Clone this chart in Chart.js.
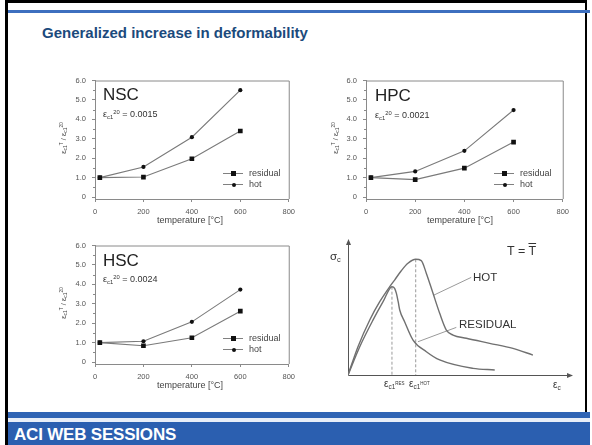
<!DOCTYPE html>
<html lang="en">
<head>
<meta charset="UTF-8">
<title>Generalized increase in deformability</title>
<script src="https://cdn.jsdelivr.net/npm/chart.js"></script>
<style>
    body { margin: 0; background: #fff; font-family: 'Liberation Sans', Arial, sans-serif; }
    #slide { position: relative; width: 592px; height: 445px; overflow: hidden; background: #fff; }
    #frame { position: absolute; left: 5px; top: 0; width: 582px; height: 445px; border-left: 3px solid #000; border-top: 3px solid #000; border-right: 2px solid #000; box-sizing: border-box; }
    #topStrip { position: absolute; left: 8px; right: 2px; top: 10px; height: 3px; background: #3d6fbf; }
    #title { position: absolute; left: 42px; top: 25px; font-size: 15px; line-height: 16px; font-weight: bold; color: #1b4a7c; }
    #footTop { position: absolute; left: 8px; right: 2px; top: 412px; height: 6px; background: #2f64b5; }
    #footLine { position: absolute; left: 8px; right: 2px; top: 418px; height: 4px; background: #e8eef8; }
    #footBand { position: absolute; left: 8px; right: 2px; top: 422px; height: 23px; background: #2b5fb0; }
    #footText { position: absolute; left: 14px; top: 425px; font-size: 17px; line-height: 19px; font-weight: bold; color: #fff; letter-spacing: -0.2px; }
    canvas { position: absolute; }
    .lbl { position: absolute; white-space: nowrap; color: #222; }
    .big { font-size: 17px; line-height: 17px; }
    .eps { font-size: 9px; line-height: 9px; color: #333; }
    .sub { font-size: 0.65em; vertical-align: -0.3em; }
    .sup { font-size: 0.65em; vertical-align: 0.55em; }
    .xt { font-size: 9px; line-height: 9px; color: #444; transform: translateX(-50%); }
    .yt { font-size: 7.5px; line-height: 8px; color: #444; transform: translate(-50%, -50%) rotate(-90deg); }
    .leg { position: absolute; height: 10px; }
    .leg .ln { position: absolute; left: 0; top: 5px; width: 20px; height: 1px; background: #808080; }
    .leg .sq { position: absolute; left: 8px; top: 3px; width: 5px; height: 5px; background: #111; }
    .leg .dot { position: absolute; left: 8.5px; top: 3.5px; width: 4px; height: 4px; border-radius: 50%; background: #111; }
    .leg .tx { position: absolute; left: 26px; top: 0; font-size: 9px; line-height: 10px; color: #444; }
    .sk { font-size: 11.5px; line-height: 12px; color: #333; }
</style>
</head>
<body>
<div id="slide">
    <div id="frame"></div>
    <div id="topStrip"></div>
    <div id="title">Generalized increase in deformability</div>

    <canvas id="nscChart" width="245" height="160" style="left:55px; top:70px;"></canvas>
    <canvas id="hpcChart" width="248" height="160" style="left:326px; top:70px;"></canvas>
    <canvas id="hscChart" width="245" height="160" style="left:55px; top:235px;"></canvas>
    <canvas id="sketchChart" width="250" height="150" style="left:330px; top:235px;"></canvas>

    <!-- NSC -->
    <div class="lbl big" style="left:103px; top:86px;">NSC</div>
    <div class="lbl eps" style="left:103px; top:108px;">ε<span class="sub">c1</span><span class="sup">20</span> = 0.0015</div>
    <div class="lbl yt" style="left:64px; top:138px;">ε<span class="sub">c1</span><span class="sup">T</span> / ε<span class="sub">c1</span><span class="sup">20</span></div>
    <div class="lbl xt" style="left:190px; top:216px;">temperature [°C]</div>
    <div class="leg" style="left:223px; top:168px;"><div class="ln"></div><div class="sq"></div><div class="tx">residual</div></div>
    <div class="leg" style="left:223px; top:179px;"><div class="ln"></div><div class="dot"></div><div class="tx">hot</div></div>

    <!-- HPC -->
    <div class="lbl big" style="left:375px; top:87px;">HPC</div>
    <div class="lbl eps" style="left:375px; top:109px;">ε<span class="sub">c1</span><span class="sup">20</span> = 0.0021</div>
    <div class="lbl yt" style="left:336px; top:138px;">ε<span class="sub">c1</span><span class="sup">T</span> / ε<span class="sub">c1</span><span class="sup">20</span></div>
    <div class="lbl xt" style="left:460px; top:216px;">temperature [°C]</div>
    <div class="leg" style="left:494px; top:168px;"><div class="ln"></div><div class="sq"></div><div class="tx">residual</div></div>
    <div class="leg" style="left:494px; top:179px;"><div class="ln"></div><div class="dot"></div><div class="tx">hot</div></div>

    <!-- HSC -->
    <div class="lbl big" style="left:103px; top:252px;">HSC</div>
    <div class="lbl eps" style="left:103px; top:273px;">ε<span class="sub">c1</span><span class="sup">20</span> = 0.0024</div>
    <div class="lbl yt" style="left:64px; top:303px;">ε<span class="sub">c1</span><span class="sup">T</span> / ε<span class="sub">c1</span><span class="sup">20</span></div>
    <div class="lbl xt" style="left:190px; top:381px;">temperature [°C]</div>
    <div class="leg" style="left:223px; top:333px;"><div class="ln"></div><div class="sq"></div><div class="tx">residual</div></div>
    <div class="leg" style="left:223px; top:344px;"><div class="ln"></div><div class="dot"></div><div class="tx">hot</div></div>

    <!-- stress-strain sketch -->
    <div class="lbl sk" style="left:330px; top:250px;">σ<span class="sub">c</span></div>
    <div class="lbl sk" style="left:507px; top:245px; font-size:12.5px;">T = <span style="text-decoration: overline;">T</span></div>
    <div class="lbl sk" style="left:473px; top:271px;">HOT</div>
    <div class="lbl sk" style="left:459px; top:318px;">RESIDUAL</div>
    <div class="lbl sk" style="left:384px; top:378px; font-size:10px;">ε<span class="sub">c1</span><span class="sup" style="font-size:0.45em;">RES</span></div>
    <div class="lbl sk" style="left:409px; top:378px; font-size:10px;">ε<span class="sub">c1</span><span class="sup" style="font-size:0.45em;">HOT</span></div>
    <div class="lbl sk" style="left:553px; top:379px; font-size:10px;">ε<span class="sub">c</span></div>

    <div id="footTop"></div>
    <div id="footLine"></div>
    <div id="footBand"></div>
    <div id="footText">ACI WEB SESSIONS</div>
</div>

<script>
    // temperature charts
    const temps = [20, 200, 400, 600];
    const xTicks = [0, 200, 400, 600, 800];
    const yTicks = [0, 1, 2, 3, 4, 5, 6];

    const nscHot = [1.0, 1.55, 3.08, 5.5];
    const nscResidual = [1.0, 1.03, 1.97, 3.4];
    const hpcHot = [1.0, 1.32, 2.38, 4.48];
    const hpcResidual = [1.0, 0.9, 1.49, 2.83];
    const hscHot = [1.0, 1.07, 2.07, 3.73];
    const hscResidual = [1.0, 0.84, 1.25, 2.62];

    // stress-strain sketch (arbitrary units)
    const resStrain = [0, 0.53, 1.13, 1.58, 1.98, 2.10, 2.18, 2.26, 2.33, 2.55, 2.93, 3.53, 4.13, 5.63, 6.61];
    const resStress = [0, 2.13, 4.14, 5.51, 6.64, 6.52, 6.14, 5.51, 4.89, 4.01, 2.63, 1.75, 1.13, 0.50, 0.38];
    const hotStrain = [0, 0.45, 0.98, 1.43, 1.88, 2.10, 2.40, 2.70, 3.05, 3.30, 3.53, 3.83, 4.13, 4.43, 4.73, 5.33, 6.38, 7.43, 8.33];
    const hotStress = [0, 2.13, 4.14, 5.51, 6.64, 7.14, 7.84, 8.40, 8.70, 8.60, 7.64, 6.14, 4.64, 3.38, 3.00, 2.76, 2.38, 2.00, 1.50];
    const resPeak = [1.98, 6.64];
    const hotPeak = [3.05, 8.70];
    const hotLeader = [[5.55, 7.34], [3.86, 6.0]];
    const resLeader = [[4.88, 3.58], [3.15, 2.5]];

    const fontFamily = "'Liberation Sans', Arial, sans-serif";
    const axisGray = '#8a8a8a';

    const toPoints = (xs, ys) => xs.map((x, i) => ({ x: x, y: ys[i] }));

    // top/right frame plus minor y ticks
    const framePlugin = {
        id: 'frame',
        afterDraw(chart) {
            const { ctx, chartArea } = chart;
            const y = chart.scales.y;
            ctx.save();
            ctx.strokeStyle = axisGray;
            ctx.lineWidth = 1;
            ctx.beginPath();
            ctx.moveTo(chartArea.left, chartArea.top + 0.5);
            ctx.lineTo(chartArea.right + 0.5, chartArea.top + 0.5);
            ctx.lineTo(chartArea.right + 0.5, chartArea.bottom);
            for (let v = 0.5; v < 6; v += 1) {
                const py = Math.round(y.getPixelForValue(v)) + 0.5;
                ctx.moveTo(chartArea.left - 2, py);
                ctx.lineTo(chartArea.left, py);
            }
            ctx.stroke();
            ctx.restore();
        }
    };

    const makeTempChart = (id, hot, residual, padRight) => {
        return new Chart(document.getElementById(id), {
            type: 'scatter',
            data: {
                datasets: [{
                    label: 'residual',
                    data: toPoints(temps, residual),
                    showLine: true,
                    borderColor: '#7a7a7a',
                    borderWidth: 1.1,
                    pointStyle: 'rect',
                    pointRadius: 3.3,
                    pointBackgroundColor: '#111',
                    pointBorderColor: '#111',
                    pointBorderWidth: 0
                }, {
                    label: 'hot',
                    data: toPoints(temps, hot),
                    showLine: true,
                    borderColor: '#7a7a7a',
                    borderWidth: 1.1,
                    pointStyle: 'circle',
                    pointRadius: 2.1,
                    pointBackgroundColor: '#111',
                    pointBorderColor: '#111',
                    pointBorderWidth: 0
                }]
            },
            options: {
                responsive: false,
                animation: false,
                layout: { padding: { top: 9, right: padRight, left: 0, bottom: 0 } },
                plugins: { legend: { display: false }, tooltip: { enabled: false } },
                scales: {
                    x: {
                        type: 'linear',
                        min: 0,
                        max: 800,
                        afterBuildTicks: s => { s.ticks = xTicks.map(v => ({ value: v })); },
                        afterFit: s => { s.height = 31; },
                        grid: { drawOnChartArea: false, tickLength: 3, color: axisGray },
                        border: { color: axisGray },
                        ticks: { font: { size: 7.5, family: fontFamily }, color: '#555', padding: 5, maxRotation: 0 }
                    },
                    y: {
                        min: -0.1,
                        max: 6,
                        afterBuildTicks: s => { s.ticks = yTicks.map(v => ({ value: v })); },
                        afterFit: s => { s.width = 40; },
                        grid: { drawOnChartArea: false, tickLength: 3, color: axisGray },
                        border: { color: axisGray },
                        ticks: {
                            font: { size: 7.5, family: fontFamily },
                            color: '#555',
                            padding: 6,
                            callback: v => v === 0 ? '0' : v.toFixed(1)
                        }
                    }
                }
            },
            plugins: [framePlugin]
        });
    };

    makeTempChart('nscChart', nscHot, nscResidual, 10);
    makeTempChart('hpcChart', hpcHot, hpcResidual, 10);
    makeTempChart('hscChart', hscHot, hscResidual, 10);

    // axes with arrow heads for the sketch
    const arrowAxes = {
        id: 'arrowAxes',
        beforeDatasetsDraw(chart) {
            const { ctx, chartArea } = chart;
            const l = chartArea.left + 0.5, b = chartArea.bottom + 0.5;
            ctx.save();
            ctx.strokeStyle = '#555';
            ctx.fillStyle = '#555';
            ctx.lineWidth = 1;
            ctx.beginPath();
            ctx.moveTo(l, chartArea.top);
            ctx.lineTo(l, b);
            ctx.lineTo(chartArea.right, b);
            ctx.stroke();
            ctx.beginPath();
            ctx.moveTo(chartArea.right + 3, b);
            ctx.lineTo(chartArea.right - 3, b - 2.5);
            ctx.lineTo(chartArea.right - 3, b + 2.5);
            ctx.closePath();
            ctx.fill();
            ctx.beginPath();
            ctx.moveTo(l, chartArea.top - 3);
            ctx.lineTo(l - 2.5, chartArea.top + 3);
            ctx.lineTo(l + 2.5, chartArea.top + 3);
            ctx.closePath();
            ctx.fill();
            ctx.restore();
        }
    };

    const curveStyle = { showLine: true, pointRadius: 0, borderColor: '#707070', borderWidth: 1.4, cubicInterpolationMode: 'monotone' };
    const thinStyle = { showLine: true, pointRadius: 0, borderColor: '#9a9a9a', borderWidth: 1 };

    new Chart(document.getElementById('sketchChart'), {
        type: 'scatter',
        data: {
            datasets: [
                Object.assign({ data: toPoints(resStrain, resStress) }, curveStyle),
                Object.assign({ data: toPoints(hotStrain, hotStress) }, curveStyle),
                Object.assign({ data: [{ x: resPeak[0], y: resPeak[1] }, { x: resPeak[0], y: 0 }], borderDash: [3, 2] }, thinStyle),
                Object.assign({ data: [{ x: hotPeak[0], y: hotPeak[1] }, { x: hotPeak[0], y: 0 }], borderDash: [3, 2] }, thinStyle),
                Object.assign({ data: hotLeader.map(p => ({ x: p[0], y: p[1] })) }, thinStyle),
                Object.assign({ data: resLeader.map(p => ({ x: p[0], y: p[1] })) }, thinStyle)
            ]
        },
        options: {
            responsive: false,
            animation: false,
            layout: { padding: { top: 7, right: 10, left: 18, bottom: 10 } },
            plugins: { legend: { display: false }, tooltip: { enabled: false } },
            scales: {
                x: { type: 'linear', min: 0, max: 10, display: false },
                y: { min: 0, max: 10, display: false }
            }
        },
        plugins: [arrowAxes]
    });
</script>
</body>
</html>
